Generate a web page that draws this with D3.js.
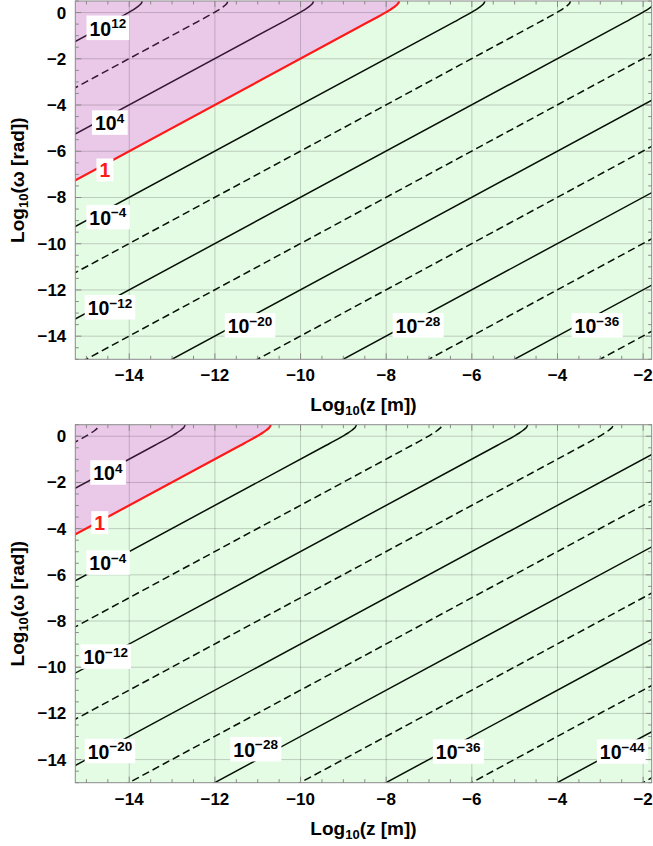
<!DOCTYPE html>
<html>
<head>
<meta charset="utf-8">
<script src="https://cdn.jsdelivr.net/npm/d3@7"></script>
<style>
body { margin: 0; background: #fff; }
text { font-family: "Liberation Sans", Arial, sans-serif; font-weight: bold; }
</style>
</head>
<body>
<svg id="main_svg"></svg>
<script>
const WIDTH = 653;
const HEIGHT = 846;

const X_DOMAIN = [-15.26, -1.8];
const Y_DOMAIN = [-15, 0.5];
const xTicks = [-14, -12, -10, -8, -6, -4, -2];
const yTicks = [0, -2, -4, -6, -8, -10, -12, -14];

// shape of the bend at the top of every contour:
// u = offset from where the straight part crosses 0, v = Log10(omega)
const bendU = [-0.4, -0.2, 0, 0.1, 0.2, 0.25, 0.28, 0.3, 0.301];
const bendV = [-0.39, -0.19, 0.02, 0.13, 0.26, 0.34, 0.40, 0.48, 0.497];

// top panel: contour level (power of ten) and intercept of the straight part
const topLevels     = [12, 8, 4, 0, -4, -8, -12, -16, -20, -24, -28, -32, -36, -40];
const topIntercepts = [14, 12, 10, 8, 6, 4, 2, 0, -2, -4, -6, -8, -10, -12];
const topLabelLevels = [12, 4, 0, -4, -12, -20, -28, -36];
const topLabelX = [-14.50, -14.46, -14.57, -14.50, -14.45, -11.18, -7.26, -3.08];
const topLabelY = [-0.66, -4.76, -6.81, -8.85, -12.75, -13.53, -13.53, -13.53];

// bottom panel
const bottomLevels     = [8, 4, 0, -4, -8, -12, -16, -20, -24, -28, -32, -36, -40, -44, -48];
const bottomIntercepts = [15, 13, 11, 9, 7, 5, 3, 1, -1, -3, -5, -7, -9, -11, -13];
const bottomLabelLevels = [4, 0, -4, -12, -20, -28, -36, -44];
const bottomLabelX = [-14.50, -14.69, -14.50, -14.55, -14.45, -11.05, -6.32, -2.49];
const bottomLabelY = [-1.57, -3.74, -5.47, -9.54, -13.63, -13.55, -13.65, -13.65];

const PINK = '#eac9e8';
const GREEN = '#e4fbe4';

const svg = d3.select('#main_svg').attr('width', WIDTH).attr('height', HEIGHT);

const fmt = v => (v < 0 ? '\u2212' : '') + Math.abs(v);

const plot_panel = (idx, top, bottom, levels, intercepts, labLevels, labX, labY) => {
	const left = 75.3, right = 651.7;
	const x = d3.scaleLinear().domain(X_DOMAIN).range([left, right]);
	const y = d3.scaleLinear().domain(Y_DOMAIN).range([bottom, top]);
	const g = svg.append('g');

	const clipId = 'clip' + idx;
	g.append('clipPath').attr('id', clipId)
		.append('rect')
		.attr('x', left).attr('y', top)
		.attr('width', right - left).attr('height', bottom - top);

	const plot = g.append('g').attr('clip-path', `url(#${clipId})`);

	const contourPoints = c => [[-30, -30 + c]].concat(bendU.map((u, i) => [u - c, bendV[i]]));

	plot.append('rect')
		.attr('x', left).attr('y', top)
		.attr('width', right - left).attr('height', bottom - top)
		.attr('fill', GREEN);

	const redC = intercepts[levels.indexOf(0)];
	const area = d3.area()
		.x(d => x(d[0]))
		.y0(y(3))
		.y1(d => y(d[1]))
		.curve(d3.curveMonotoneX);
	plot.append('path')
		.datum(contourPoints(redC))
		.attr('d', area)
		.attr('fill', PINK);

	// grid
	plot.selectAll('.vgrid').data(xTicks).enter().append('line')
		.attr('x1', d => x(d)).attr('x2', d => x(d))
		.attr('y1', top).attr('y2', bottom)
		.attr('stroke', '#000').attr('stroke-opacity', 0.18).attr('stroke-width', 1);
	plot.selectAll('.hgrid').data(yTicks).enter().append('line')
		.attr('y1', d => y(d)).attr('y2', d => y(d))
		.attr('x1', left).attr('x2', right)
		.attr('stroke', '#000').attr('stroke-opacity', 0.18).attr('stroke-width', 1);

	const line = d3.line()
		.x(d => x(d[0]))
		.y(d => y(d[1]))
		.curve(d3.curveMonotoneX);

	levels.forEach((lv, i) => {
		const p = plot.append('path')
			.datum(contourPoints(intercepts[i]))
			.attr('d', line)
			.attr('fill', 'none');
		if (lv === 0) {
			p.attr('stroke', '#ff1a1a').attr('stroke-width', 2.2);
		} else {
			p.attr('stroke', lv > 0 ? '#341834' : '#061006').attr('stroke-width', 1.5);
			if (Math.abs(lv) % 8 === 0) p.attr('stroke-dasharray', '7.5,4');
		}
	});

	// contour labels
	labLevels.forEach((lv, i) => {
		const lg = plot.append('g').attr('transform', `translate(${x(labX[i])},${y(labY[i])})`);
		const rect = lg.append('rect').attr('fill', '#fff');
		const t = lg.append('text').attr('text-anchor', 'middle').attr('font-size', 19.5)
			.attr('fill', lv === 0 ? '#ff1a1a' : '#000');
		if (lv === 0) {
			t.text('1');
		} else {
			t.append('tspan').text('10');
			t.append('tspan').attr('dy', -7.5).attr('font-size', 13.5).text(fmt(lv));
		}
		const bb = t.node().getBBox();
		const shift = -(bb.y + bb.height / 2);
		t.attr('y', shift);
		rect.attr('x', bb.x - 3).attr('y', bb.y + shift - 0.5)
			.attr('width', bb.width + 6).attr('height', bb.height + 1);
	});

	// frame
	g.append('rect')
		.attr('x', left).attr('y', top)
		.attr('width', right - left).attr('height', bottom - top)
		.attr('fill', 'none').attr('stroke', '#8a8a8a').attr('stroke-width', 1);

	// ticks, inside the frame
	const xMinor = d3.range(-15, -1.8, 0.5);
	const yMinor = d3.range(-15, 0.51, 0.5);
	const isMajor = v => Math.abs(v % 2) < 1e-9;
	const tk = g.append('g').attr('stroke', '#8a8a8a').attr('stroke-width', 1);
	xMinor.forEach(v => {
		const len = isMajor(v) ? 6 : 3.5;
		tk.append('line').attr('x1', x(v)).attr('x2', x(v)).attr('y1', bottom).attr('y2', bottom - len);
		tk.append('line').attr('x1', x(v)).attr('x2', x(v)).attr('y1', top).attr('y2', top + len);
	});
	yMinor.forEach(v => {
		const len = isMajor(v) ? 6 : 3.5;
		tk.append('line').attr('y1', y(v)).attr('y2', y(v)).attr('x1', left).attr('x2', left + len);
		tk.append('line').attr('y1', y(v)).attr('y2', y(v)).attr('x1', right).attr('x2', right - len);
	});

	// tick labels
	g.selectAll('.xlab').data(xTicks).enter().append('text')
		.attr('x', d => x(d)).attr('y', bottom + 22)
		.attr('text-anchor', 'middle').attr('font-size', 17)
		.text(d => fmt(d));
	g.selectAll('.ylab').data(yTicks).enter().append('text')
		.attr('x', left - 9).attr('y', d => y(d)).attr('dy', '0.35em')
		.attr('text-anchor', 'end').attr('font-size', 17)
		.text(d => fmt(d));

	// axis titles
	const xt = g.append('text')
		.attr('x', (left + right) / 2).attr('y', bottom + 52)
		.attr('text-anchor', 'middle').attr('font-size', 19);
	xt.append('tspan').text('Log');
	xt.append('tspan').attr('font-size', 13).attr('dy', 4).text('10');
	xt.append('tspan').attr('dy', -4).text('(z [m])');

	const yt = g.append('text')
		.attr('transform', `translate(24,${(top + bottom) / 2}) rotate(-90)`)
		.attr('text-anchor', 'middle').attr('font-size', 19);
	yt.append('tspan').text('Log');
	yt.append('tspan').attr('font-size', 13).attr('dy', 4).text('10');
	yt.append('tspan').attr('dy', -4).text('(\u03c9 [rad])');
};

plot_panel(0, 1, 359.3, topLevels, topIntercepts, topLabelLevels, topLabelX, topLabelY);
plot_panel(1, 424.7, 782.7, bottomLevels, bottomIntercepts, bottomLabelLevels, bottomLabelX, bottomLabelY);
</script>
</body>
</html>
